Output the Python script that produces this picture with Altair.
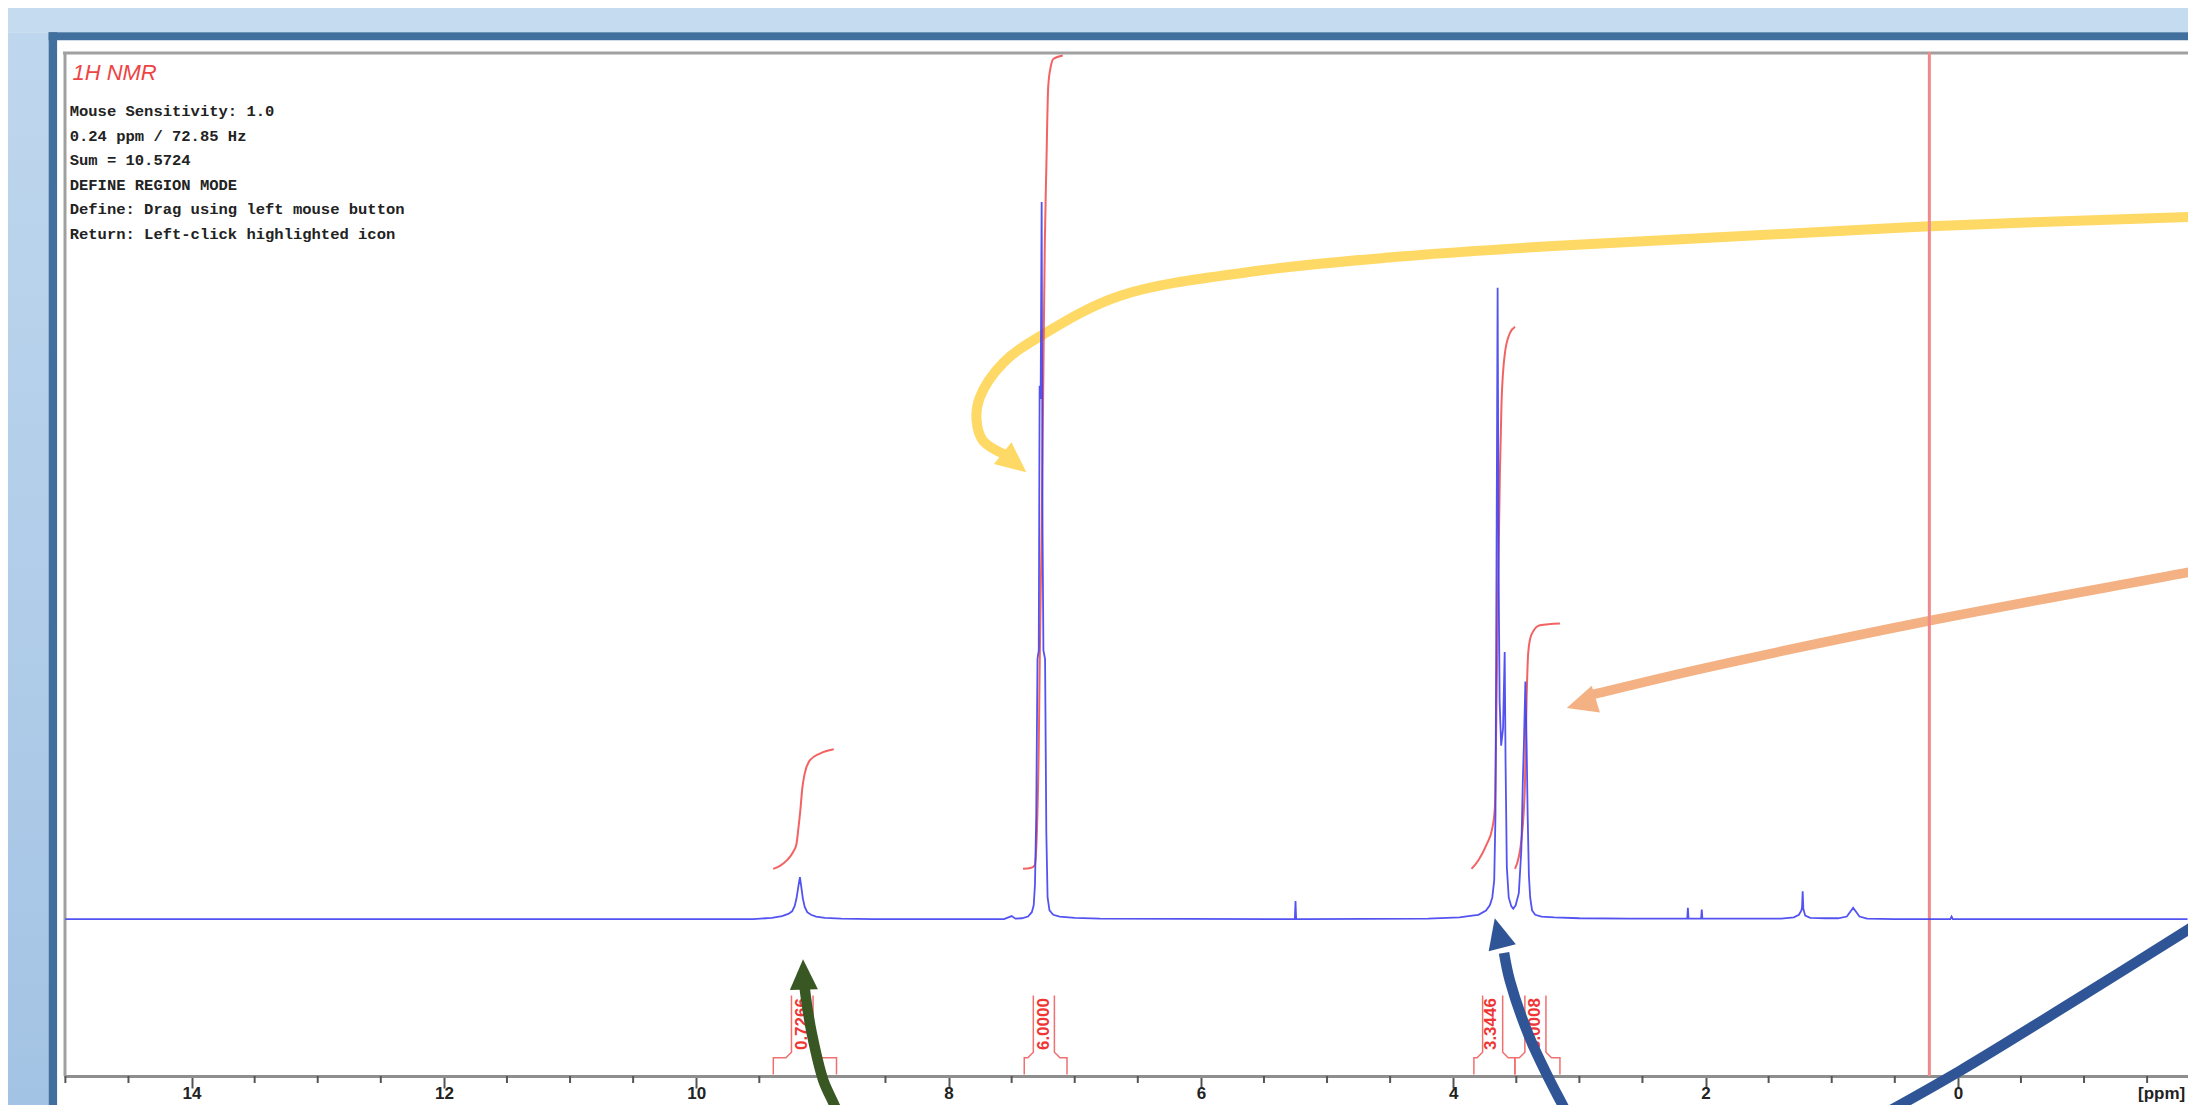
import altair as alt
import pandas as pd

# ---------------- data (ppm / intensity, intensity 0 = baseline, 100 = top of plot) -------------
spec_ppm = [15.0, 13.0, 11.0, 9.55, 9.40, 9.32, 9.27, 9.24, 9.22, 9.205, 9.19, 9.178, 9.168, 9.155,
            9.14, 9.12, 9.09, 9.05, 8.98, 8.85, 8.6, 7.56, 7.50, 7.47, 7.42, 7.37, 7.34, 7.325, 7.315,
            7.305, 7.295, 7.285, 7.278, 7.27, 7.262, 7.255, 7.248, 7.235, 7.225, 7.215, 7.20, 7.17,
            7.12, 7.0, 6.8, 5.30, 5.255, 5.25, 5.245, 5.2, 4.2, 3.95, 3.85, 3.80, 3.74, 3.71, 3.69,
            3.675, 3.665, 3.657, 3.648, 3.640, 3.632, 3.62, 3.605, 3.592, 3.585, 3.575, 3.56, 3.54,
            3.524, 3.505, 3.48, 3.46, 3.448, 3.44, 3.428, 3.418, 3.41, 3.40, 3.39, 3.375, 3.35, 3.30,
            3.2, 3.0, 2.6, 2.2, 2.145, 2.14, 2.135, 2.035, 2.03, 2.025, 1.9, 1.40, 1.30, 1.26, 1.24,
            1.235, 1.23, 1.225, 1.21, 1.17, 1.05, 0.95, 0.88, 0.85, 0.83, 0.81, 0.78, 0.72, 0.5,
            0.06, 0.05, 0.04, -1.0, -1.82]
spec_int = [0, 0, 0, 0, 0.15, 0.35, 0.6, 0.9, 1.5, 2.4, 3.8, 4.85, 3.8, 2.4,
            1.4, 0.8, 0.5, 0.3, 0.15, 0.05, 0, 0, 0.35, 0.05, 0.1, 0.3, 0.8, 1.6, 4,
            12, 30, 31, 61.5, 60, 82.7, 45, 31, 30, 10, 2.5, 1.0, 0.5,
            0.3, 0.15, 0.05, 0, 0, 2.1, 0, 0, 0.05, 0.2, 0.4, 0.5, 1.0, 1.6, 2.5,
            4.5, 12, 40, 72.8, 40, 25, 20, 22, 30.8, 18, 6, 2.5, 1.5,
            1.2, 1.6, 3, 8, 16, 20, 27.4, 20, 12, 5, 2.5, 1.0, 0.5, 0.3,
            0.2, 0.1, 0.05, 0.05, 0.05, 1.3, 0.05, 0.05, 1.1, 0.05, 0.05, 0.05, 0.2, 0.5, 1.0,
            1.4, 3.2, 1.2, 0.4, 0.15, 0.1, 0.1, 0.3, 0.9, 1.3, 0.9, 0.3, 0.05, 0,
            0, 0.3, 0, 0, 0]

int1_ppm = [9.39, 9.33, 9.28, 9.23, 9.205, 9.19, 9.175, 9.16, 9.14, 9.10, 9.02, 8.91]
int1_val = [5.8, 6.2, 6.8, 7.8, 8.7, 10.5, 12.5, 15.0, 16.8, 18.3, 19.1, 19.6]
int2_ppm = [7.41, 7.35, 7.317, 7.30, 7.285, 7.277, 7.262, 7.25, 7.237, 7.225, 7.21, 7.19, 7.17, 7.095]
int2_val = [5.8, 5.9, 6.2, 10, 20, 30, 45, 60.7, 78, 86.6, 96, 98.3, 99.2, 99.6]
int3_ppm = [3.855, 3.80, 3.736, 3.69, 3.67, 3.656, 3.644, 3.63, 3.617, 3.59, 3.55, 3.51]
int3_val = [5.8, 6.8, 8.6, 10.5, 12.8, 25.7, 38.5, 51.4, 59.6, 65.3, 67.6, 68.3]
int4_ppm = [3.51, 3.48, 3.459, 3.432, 3.418, 3.405, 3.38, 3.313, 3.154]
int4_val = [5.8, 7.2, 9.2, 15.3, 25.6, 30.8, 32.8, 33.9, 34.1]

br_label = ["0.7266", "6.0000", "3.3446", "3.0008"]
br_range_left = [9.389, 7.400, 3.836, 3.511]
br_range_right = [8.888, 7.061, 3.511, 3.154]
br_text_left = [9.245, 7.328, 3.767, 3.432]
br_text_right = [9.074, 7.161, 3.608, 3.265]
br_center = [9.165, 7.244, 3.700, 3.349]

major_ticks = [14, 12, 10, 8, 6, 4, 2, 0]
minor_ticks = [15, 14.5, 13.5, 13, 12.5, 11.5, 11, 10.5, 9.5, 9, 8.5, 7.5, 7, 6.5, 5.5, 5, 4.5,
               3.5, 3, 2.5, 1.5, 1, 0.5, -0.5, -1, -1.5]
red_cursor = 0.226

title_text = "1H NMR"
unit_text = "[ppm]"
info_lines = ["Mouse Sensitivity: 1.0", "0.24 ppm / 72.85 Hz", "Sum = 10.5724",
              "DEFINE REGION MODE", "Define: Drag using left mouse button",
              "Return: Left-click highlighted icon"]

# annotation arrows (ppm / intensity)
yellow_ppm = [-2.243, -1.887, 0.222, 2.043, 3.309, 4.419, 5.529, 6.639, 7.250, 7.568, 7.753, 7.778, 7.727, 7.550]
yellow_int = [81.18, 80.99, 79.90, 78.51, 77.54, 76.41, 74.80, 71.89, 67.43, 64.14, 60.13, 57.51, 55.17, 53.55]
orange_ppm = [-2.243, -1.887, 0.2265, 2.044, 2.842, 2.909]
orange_int = [41.20, 40.16, 34.41, 28.84, 26.09, 25.85]
green_ppm = [8.860, 8.880, 8.993, 9.084, 9.126, 9.143]
green_int = [-24.88, -22.41, -18.58, -13.18, -9.53, -7.59]
blue1_ppm = [3.031, 3.100, 3.234, 3.397, 3.551, 3.597]
blue1_int = [-24.88, -22.41, -18.61, -13.57, -7.08, -3.88]
blue2_ppm = [0.644, -0.022, -0.910, -1.887, -2.354]
blue2_int = [-22.94, -17.45, -9.53, -0.65, 3.72]

head_ppm = [7.477, 2.985, 9.150, 3.641]
head_int = [52.63, 24.86, -6.37, -1.60]
head_angle = [129, 252.9, 358.4, 345.8]

YELLOW, ORANGE, GREEN, BLUE = "#ffd966", "#f4b183", "#385723", "#2f5597"

# ---------------- layout ----------------
W, H = 2124, 1024
XMIN, XMAX = -1.824, 15.011
YMIN, YMAX = -18.09, 100.0
LABEL_FONT = "Liberation Sans"

AX = alt.Axis(values=major_ticks, format="d", title=None, grid=False, tickSize=12, tickWidth=2,
              tickColor="#555555", domainColor="#8e8e8e", domainWidth=3, labelFont=LABEL_FONT,
              labelFontSize=17, labelFontWeight="bold", labelColor="#222222", labelPadding=-3,
              labelFlush=False, labelOverlap=False)


def X(field="ppm"):
    return alt.X(f"{field}:Q", scale=alt.Scale(domain=[XMIN, XMAX], reverse=True, nice=False, zero=False), axis=AX)


def Y(field="inten"):
    return alt.Y(f"{field}:Q", scale=alt.Scale(domain=[YMIN, YMAX], nice=False, zero=False), axis=None)


one = alt.Data(values=[{"a": 1}])

# window decoration
bg_top = alt.Chart(one).mark_rect(fill="#c5dbef").encode(
    x=alt.value(-60), x2=alt.value(W + 20), y=alt.value(-50), y2=alt.value(-19.8))
bg_left = alt.Chart(one).mark_rect(
    fill=alt.Gradient(gradient="linear", x1=0, x2=0, y1=0, y2=1,
                      stops=[alt.GradientStop(color="#bfd7ee", offset=0),
                             alt.GradientStop(color="#a3c3e4", offset=1)])).encode(
    x=alt.value(-60), x2=alt.value(-15.4), y=alt.value(-19.8), y2=alt.value(H + 40))
frame_top = alt.Chart(one).mark_rect(fill="#41709e").encode(
    x=alt.value(-15.4), x2=alt.value(W + 20), y=alt.value(-19.8), y2=alt.value(-11.8))
frame_left = alt.Chart(one).mark_rect(fill="#41709e").encode(
    x=alt.value(-15.4), x2=alt.value(-6.9), y=alt.value(-19.8), y2=alt.value(H + 40))
border_top = alt.Chart(one).mark_rule(color="#a0a0a0", strokeWidth=3).encode(
    x=alt.value(-1), x2=alt.value(W + 5), y=alt.value(1))
border_left = alt.Chart(one).mark_rule(color="#a0a0a0", strokeWidth=3).encode(
    x=alt.value(1), y=alt.value(0), y2=alt.value(H))

title = alt.Chart(one).mark_text(text=title_text, align="left", baseline="middle", font="Liberation Sans",
                                 fontSize=22, fontStyle="italic", color="#ee4444").encode(
    x=alt.value(8.4), y=alt.value(21))
info = alt.Chart(one).mark_text(text=info_lines, align="left", baseline="alphabetic", font="Liberation Mono",
                                fontSize=15.5, fontWeight="bold", color="#222222", lineHeight=24.5).encode(
    x=alt.value(5.7), y=alt.value(64.3))

# spectrum
spec_df = pd.DataFrame({"ppm": spec_ppm, "inten": spec_int, "k": range(len(spec_ppm))})
spectrum = alt.Chart(spec_df).mark_line(color="#4040f0", strokeWidth=1.8, opacity=0.9).encode(
    x=X(), y=Y(), order="k:Q")

# integrals
rows = []
for name, xs, ys in [("i1", int1_ppm, int1_val), ("i2", int2_ppm, int2_val),
                     ("i3", int3_ppm, int3_val), ("i4", int4_ppm, int4_val)]:
    for k, (xv, yv) in enumerate(zip(xs, ys)):
        rows.append({"ppm": xv, "inten": yv, "name": name, "k": k})
integrals = alt.Chart(pd.DataFrame(rows)).mark_line(
    color="#f04848", strokeWidth=2, opacity=0.85, interpolate="monotone").encode(
    x=X(), y=Y(), detail="name:N", order="k:Q")

# integral brackets
B_TOP, B_SHOULDER, B_STEP, B_BOTTOM = -8.8, -15.35, -15.99, -17.93
brows = []
for i in range(len(br_label)):
    rl, rr, tl, tr = br_range_left[i], br_range_right[i], br_text_left[i], br_text_right[i]
    left = [(rl, B_BOTTOM), (rl, B_STEP), (min(tl + 0.044, rl), B_STEP), (tl, B_SHOULDER), (tl, B_TOP)]
    right = [(rr, B_BOTTOM), (rr, B_STEP), (max(tr - 0.044, rr), B_STEP), (tr, B_SHOULDER), (tr, B_TOP)]
    for side, pts in (("l", left), ("r", right)):
        for k, (xv, yv) in enumerate(pts):
            brows.append({"ppm": xv, "inten": yv, "seg": f"{i}{side}", "k": k})
brackets = alt.Chart(pd.DataFrame(brows)).mark_line(color="#f07070", strokeWidth=1.5).encode(
    x=X(), y=Y(), detail="seg:N", order="k:Q")
blabels = alt.Chart(pd.DataFrame({"ppm": br_center, "inten": [-12.1] * 4, "label": br_label})).mark_text(
    angle=270, align="center", baseline="middle", font=LABEL_FONT, fontSize=17, fontWeight="bold",
    color="#f03535").encode(x=X(), y=Y(), text="label:N")

# cursor line
cursor = alt.Chart(pd.DataFrame({"ppm": [red_cursor]})).mark_rule(color="#f08a8a", strokeWidth=3).encode(
    x=X(), y=alt.value(0), y2=alt.value(H))

# minor ticks + unit label
minor = alt.Chart(pd.DataFrame({"ppm": minor_ticks})).mark_rule(color="#555555", strokeWidth=2).encode(
    x=X(), y=alt.value(H), y2=alt.value(H + 7))
unit = alt.Chart(one).mark_text(text=unit_text, align="left", baseline="middle", font=LABEL_FONT,
                                fontSize=17, fontWeight="bold", color="#222222").encode(
    x=alt.value(2074), y=alt.value(H + 18))

# arrows
arows = []
for name, col, w, xs, ys in [("yellow", YELLOW, 10, yellow_ppm, yellow_int),
                             ("orange", ORANGE, 9.5, orange_ppm, orange_int),
                             ("green", GREEN, 10.5, green_ppm, green_int),
                             ("blue1", BLUE, 10.5, blue1_ppm, blue1_int)]:
    for k, (xv, yv) in enumerate(zip(xs, ys)):
        arows.append({"ppm": xv, "inten": yv, "name": name, "k": k, "col": col, "w": w})
arrow_lines = alt.Chart(pd.DataFrame(arows)).mark_line(interpolate="catmull-rom").encode(
    x=X(), y=Y(), detail="name:N", order="k:Q",
    color=alt.Color("col:N", scale=None), strokeWidth=alt.StrokeWidth("w:Q", scale=None))
blue2_df = pd.DataFrame({"ppm": blue2_ppm, "inten": blue2_int, "k": range(len(blue2_ppm))})
blue2_line = alt.Chart(blue2_df).mark_line(color=BLUE, strokeWidth=10.5, interpolate="catmull-rom").encode(
    x=X(), y=Y(), order="k:Q")
heads_df = pd.DataFrame({"ppm": head_ppm, "inten": head_int, "ang": head_angle,
                         "col": [YELLOW, ORANGE, GREEN, BLUE]})
arrow_heads = alt.Chart(heads_df).mark_point(
    shape="M0,-1L0.92,1L-0.92,1Z", filled=True, size=930, opacity=1, strokeWidth=0).encode(
    x=X(), y=Y(), angle=alt.Angle("ang:Q", scale=None), color=alt.Color("col:N", scale=None))

chart = alt.layer(
    bg_top, bg_left, frame_top, frame_left, border_top, border_left,
    brackets, blabels, minor, unit,
    arrow_lines, blue2_line, arrow_heads,
    cursor, integrals, spectrum, title, info,
).properties(
    width=W, height=H,
    padding={"left": 56, "top": 44, "right": 0, "bottom": 29},
    autosize=alt.AutoSizeParams(type="none"),
).configure(background="white").configure_view(stroke=None)

chart.save("out.html", embed_options={"renderer": "svg", "actions": False})
